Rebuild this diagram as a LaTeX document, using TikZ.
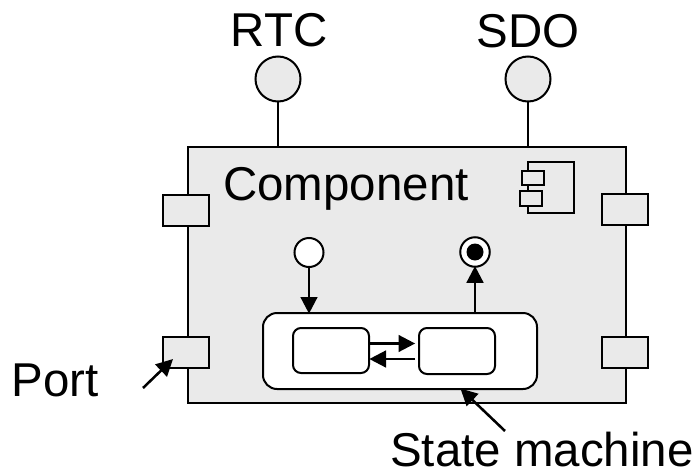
\documentclass[tikz,border=0pt]{standalone}
\usepackage{fontspec}
\setmainfont{Liberation Sans}
\usetikzlibrary{arrows.meta,calc}
\definecolor{cfill}{HTML}{EAEAEA}
\newcommand{\pxbox}[5]{\node[#1,minimum width=#4*0.75pt,minimum height=#5*0.75pt] (#2) at (#3) {};}
\tikzset{
  x=0.75pt,y=-0.75pt,
  every node/.style={inner sep=0pt,outer sep=0pt},
  line/.style={draw=black,line width=1.5pt},
  comp/.style={line,fill=cfill},
  portbox/.style={line,fill=cfill,rectangle},
  iface/.style={line,fill=cfill,circle,minimum size=45*0.75pt},
  outer/.style={line,fill=white,rectangle,rounded corners=14*0.75pt},
  inner/.style={line,fill=white,rectangle,rounded corners=8*0.75pt},
  arr/.style={draw=black,line width=1.9pt,-{Triangle[length=12.5pt,width=12.5pt]},shorten >=-0.5pt},
  lbl/.style={font=\fontsize{35.6pt}{40pt}\selectfont,text=black,anchor=base},
}
\begin{document}
\begin{tikzpicture}
\useasboundingbox (0,0) rectangle (697,475);
% interfaces
\pxbox{iface}{rtc}{278,79}{45}{45}
\pxbox{iface}{sdo}{528,79}{45}{45}
% component
\pxbox{comp,rectangle}{comp}{407,275}{438}{256}
\draw[line] (rtc) -- (rtc |- comp.north);
\draw[line] (sdo) -- (sdo |- comp.north);
% ports
\pxbox{portbox}{p1}{186,210.5}{46}{31}
\pxbox{portbox}{p2}{186,352.5}{46}{31}
\pxbox{portbox}{p3}{625,209.5}{46}{31}
\pxbox{portbox}{p4}{625,352.5}{46}{31}
% component icon
\pxbox{line,rectangle}{ib}{551,187.5}{46}{51}
\pxbox{portbox}{ia}{533,178}{22}{14}
\pxbox{portbox}{ic}{531,198.5}{22}{15}
% state machine
\pxbox{outer}{sm}{400,351}{274}{76}
\pxbox{inner}{s1}{331,350.5}{76}{45}
\pxbox{inner}{s2}{457,351}{76}{46}
% initial / final
\node[line,fill=white,circle,minimum size=29*0.75pt] (init) at (309,252.5) {};
\node[line,fill=white,circle,minimum size=29.5*0.75pt] (fin) at (475,252) {};
\node[fill=black,circle,minimum size=17*0.75pt] (fdot) at (475,252) {};
\coordinate (a1) at (369,343.5);
\coordinate (a2) at (414.5,343.5);
\coordinate (b1) at (415,359);
\coordinate (b2) at (370,359);
\draw[arr] (init) -- (init |- sm.north);
\draw[arr] (fin |- sm.north) -- (fin);
\draw[arr] (a1) -- (a2);
\draw[arr] (b1) -- (b2);
% labels
\node[lbl] (trtc) at (279,46.5) {RTC};
\node[lbl] (tsdo) at (528,47) {SDO};
\node[lbl] (tcomp) at (346,200) {Component};
\node[lbl] (tport) at (55,396) {Port};
\node[lbl] (tsm) at (542,466) {State machine};
% callouts
\coordinate (c1) at (143,388);
\coordinate (c2) at (172.5,359.5);
\coordinate (d1) at (505,431);
\coordinate (d2) at (461,389);
\draw[arr] (c1) -- (c2);
\draw[arr] (d1) -- (d2);
\end{tikzpicture}
\end{document}
